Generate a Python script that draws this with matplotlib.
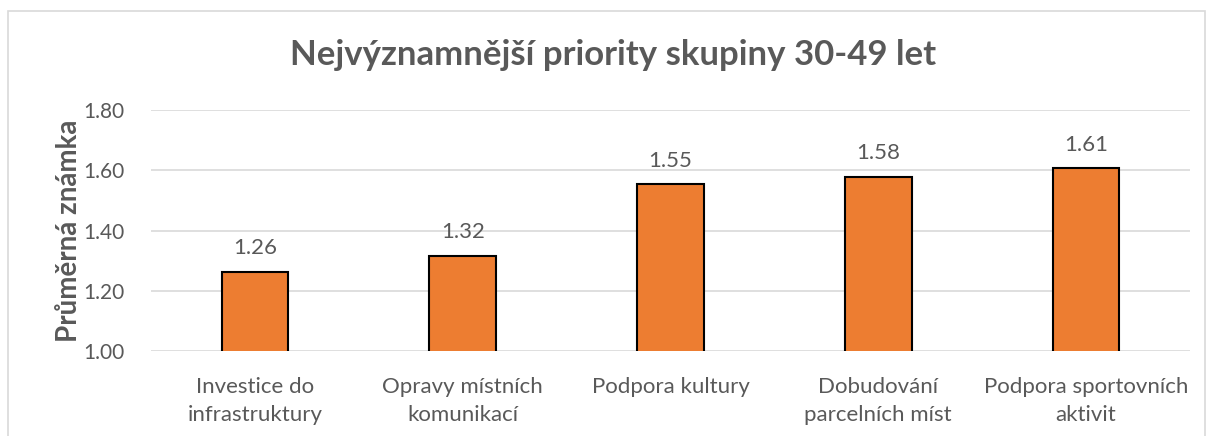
import matplotlib.pyplot as plt
from matplotlib.patches import Rectangle

categories = ['Investice do\ninfrastruktury', 'Opravy místních\nkomunikací',
              'Podpora kultury', 'Dobudování\nparcelních míst',
              'Podpora sportovních\naktivit']
values = [1.263, 1.316, 1.553, 1.579, 1.606]
yticks = [1.00, 1.20, 1.40, 1.60, 1.80]

plt.rcParams['font.family'] = ['Lato', 'DejaVu Sans']
text_col = '#595959'
W, H = 1207, 436

fig = plt.figure(figsize=(W / 100, H / 100), dpi=100)
ax = fig.add_axes([151 / W, 1 - 351 / H, (1190 - 151) / W, (351 - 110) / H])

x = range(len(categories))
bars = ax.bar(x, values, width=0.32, color='#ED7D31', edgecolor='black',
              linewidth=1.5, zorder=3)
for b, v in zip(bars, values):
    ax.text(b.get_x() + b.get_width() / 2, v + 0.045, f'{v:.2f}',
            ha='center', va='bottom', fontsize=16, color=text_col)

ax.set_xlim(-0.5, len(categories) - 0.5)
ax.set_ylim(1.0, 1.8)
ax.set_yticks(yticks)
ax.set_yticklabels([f'{t:.2f}' for t in yticks], fontsize=15, color=text_col)
ax.set_xticks(list(x))
ax.set_xticklabels(categories, fontsize=16, color=text_col, linespacing=1.45)
ax.tick_params(length=0, pad=19)
ax.tick_params(axis='x', pad=19)
ax.grid(axis='y', color='#d9d9d9', linewidth=1.2, zorder=0)
for s in ax.spines.values():
    s.set_visible(False)

ax.set_ylabel('Průměrná známka', fontsize=20, fontweight='bold', color=text_col)
ax.yaxis.set_label_coords((82 - 151) / (1190 - 151), 0.5)
fig.text(613 / W, 1 - 55 / H, 'Nejvýznamnější priority skupiny 30-49 let',
         ha='center', va='center', fontsize=25, fontweight='bold', color=text_col)

fig.patches.append(Rectangle((8 / W, -0.1), (1205 - 8) / W, 1.1 - 11 / H,
                             transform=fig.transFigure, fill=False,
                             edgecolor='#d9d9d9', linewidth=1.2))

fig.savefig('out.png', dpi=100)
